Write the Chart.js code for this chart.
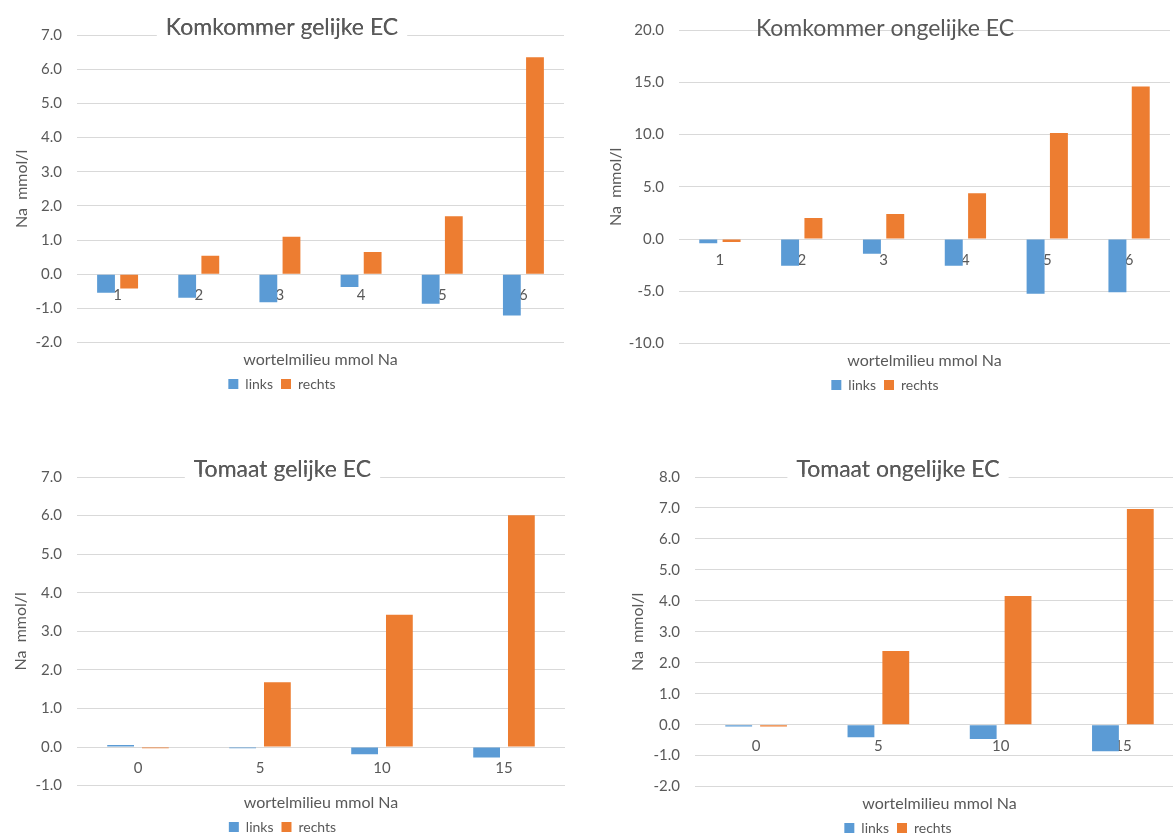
<!DOCTYPE html>
<html lang="nl">
<head>
<meta charset="UTF-8">
<title>Na komkommer en tomaat</title>
<script src="https://cdn.jsdelivr.net/npm/chart.js"></script>
<style>
  html, body { margin: 0; padding: 0; background: #fff; overflow: hidden; width: 1173px; height: 834px; }
  canvas { position: absolute; }
</style>
</head>
<body>
<canvas id="c1" width="575" height="401" style="left:0px;top:0px"></canvas>
<canvas id="c2" width="590" height="402" style="left:600px;top:0px"></canvas>
<canvas id="c3" width="575" height="404" style="left:0px;top:440px"></canvas>
<canvas id="c4" width="600" height="405" style="left:612px;top:440px"></canvas>
<script>
// --- data ---
const komkLabels = ['1', '2', '3', '4', '5', '6'];
const komkGelijkLinks = [-0.54, -0.69, -0.82, -0.37, -0.86, -1.21];
const komkGelijkRechts = [-0.42, 0.54, 1.10, 0.65, 1.70, 6.35];
const komkOngelijkLinks = [-0.40, -2.56, -1.41, -2.56, -5.22, -5.08];
const komkOngelijkRechts = [-0.28, 2.02, 2.40, 4.39, 10.15, 14.6];

const tomaatLabels = ['0', '5', '10', '15'];
const tomGelijkLinks = [0.05, -0.03, -0.19, -0.27];
const tomGelijkRechts = [-0.03, 1.68, 3.43, 6.01];
const tomOngelijkLinks = [-0.06, -0.41, -0.46, -0.86];
const tomOngelijkRechts = [-0.06, 2.38, 4.16, 6.97];

const seriesNames = ['links', 'rechts'];
const seriesColors = ['#5B9BD5', '#ED7D31'];
const yTitle = 'Na  mmol/l';
const xTitle = 'wortelmilieu mmol Na';

const grey = '#595959';
Chart.defaults.font.family = 'Lato, "Open Sans", sans-serif';
Chart.defaults.color = grey;

// white strip behind the title where it crosses the top gridline
const titleBg = {
    id: 'titleBg',
    beforeDatasetsDraw(chart, args, opts) {
        if (!opts.on) return;
        const tb = chart.titleBlock;
        const ctx = chart.ctx;
        const t = chart.options.plugins.title;
        ctx.save();
        ctx.font = Chart.helpers.toFont(t.font).string;
        const w = ctx.measureText(t.text).width;
        const cx = (tb.left + tb.right) / 2;
        ctx.fillStyle = '#fff';
        ctx.fillRect(cx - w / 2 - opts.gap, chart.chartArea.top - 3, w + 2 * opts.gap, 6);
        ctx.restore();
        tb.draw();
    }
};

function makeChart(id, c) {
    new Chart(document.getElementById(id), {
        type: 'bar',
        plugins: [titleBg],
        data: {
            labels: c.labels,
            datasets: [
                { label: seriesNames[0], data: c.links, backgroundColor: seriesColors[0], xAxisID: 'x', yAxisID: 'y' },
                { label: seriesNames[1], data: c.rechts, backgroundColor: seriesColors[1], xAxisID: 'x', yAxisID: 'y' }
            ]
        },
        options: {
            responsive: false,
            animation: false,
            categoryPercentage: 0.57,
            barPercentage: 0.77,
            layout: { padding: { left: 0, right: c.padRight, top: 0, bottom: 0 } },
            plugins: {
                title: {
                    display: true,
                    text: c.title,
                    color: grey,
                    font: { size: 23, weight: 'normal' },
                    padding: { top: c.tPad[0], bottom: c.tPad[1] }
                },
                titleBg: { on: c.titleBox, gap: 9 },
                legend: {
                    position: 'bottom',
                    labels: { boxWidth: 10, boxHeight: 10, padding: 8, color: grey, font: { size: 14 } }
                },
                tooltip: { enabled: false }
            },
            scales: {
                x: {
                    type: 'category',
                    position: { y: 0 },
                    z: 1,
                    grid: { display: false, drawTicks: false },
                    border: { display: false },
                    ticks: { padding: 12, color: grey, font: { size: 15 } }
                },
                xt: {
                    type: 'category',
                    axis: 'x',
                    position: 'bottom',
                    grid: { display: false, drawTicks: false },
                    border: { display: false },
                    ticks: { display: false },
                    title: { display: true, text: xTitle, color: grey, font: { size: 16 }, padding: { top: 7.2, bottom: 0 } }
                },
                y: {
                    min: c.min,
                    max: c.max,
                    grid: { color: '#d9d9d9', lineWidth: 1, drawTicks: false },
                    border: { display: false },
                    ticks: { stepSize: c.step, padding: 15, color: grey, font: { size: 15 }, callback: v => v.toFixed(1) },
                    title: { display: true, text: yTitle, color: grey, font: { size: 16 }, padding: { top: c.yTitlePad, bottom: 0 } },
                    afterFit: s => { s.width = c.yWidth; }
                }
            }
        }
    });
}

makeChart('c1', {
    labels: komkLabels, links: komkGelijkLinks, rechts: komkGelijkRechts,
    title: 'Komkommer gelijke EC', min: -2, max: 7, step: 1,
    tPad: [14, -6.6], titleBox: true, yWidth: 77, yTitlePad: 12, padRight: 11
});
makeChart('c2', {
    labels: komkLabels, links: komkOngelijkLinks, rechts: komkOngelijkRechts,
    title: 'Komkommer ongelijke EC', min: -10, max: 20, step: 5,
    tPad: [15, -12.6], titleBox: false, yWidth: 79, yTitlePad: 6.4, padRight: 20
});
makeChart('c3', {
    labels: tomaatLabels, links: tomGelijkLinks, rechts: tomGelijkRechts,
    title: 'Tomaat gelijke EC', min: -1, max: 7, step: 1,
    tPad: [16, -6.6], titleBox: true, yWidth: 77, yTitlePad: 11, padRight: 10
});
makeChart('c4', {
    labels: tomaatLabels, links: tomOngelijkLinks, rechts: tomOngelijkRechts,
    title: 'Tomaat ongelijke EC', min: -2, max: 8, step: 1,
    tPad: [16, -6.6], titleBox: true, yWidth: 83, yTitlePad: 16.4, padRight: 28
});
</script>
</body>
</html>
